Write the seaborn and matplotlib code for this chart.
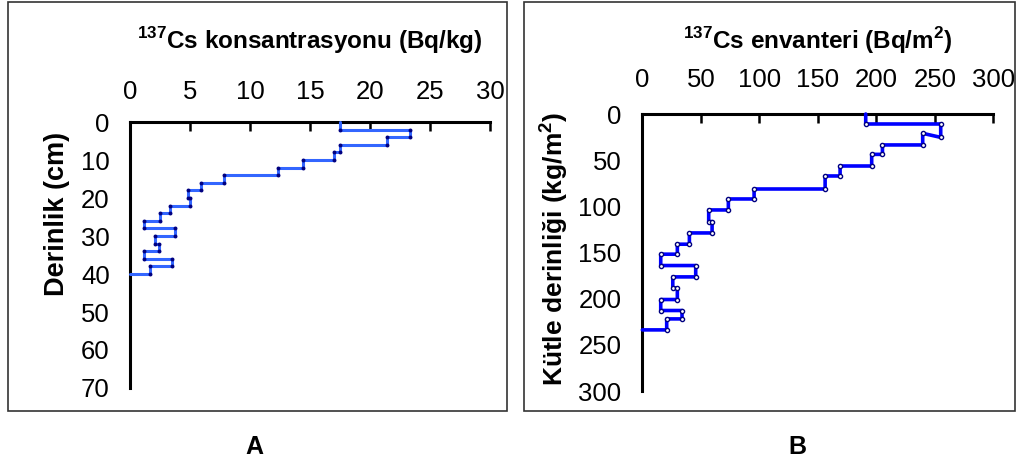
import matplotlib
import matplotlib.pyplot as plt
import pandas as pd
import seaborn as sns
from matplotlib.patches import Rectangle

matplotlib.use("Agg")

# --- DATA ---
# A: 137Cs concentration per 2 cm layer
depth_cm = [0, 2, 4, 6, 8, 10, 12, 14, 16, 18, 20,
            22, 24, 26, 28, 30, 32, 34, 36, 38, 40]
conc_bq_kg = [17.5, 23.3, 21.4, 17.5, 17.0, 14.4, 12.3, 7.8, 5.9, 4.8,
              5.0, 3.3, 2.5, 1.2, 3.75, 2.1, 2.4, 1.2, 3.5, 1.7]

# B: 137Cs inventory per layer vs. mass depth
mass_top = [0, 10.8, 20.9, 33.5, 43.7, 56.3, 67.1, 81.2, 92.0, 103.9,
            116.5, 128.8, 141.0, 151.8, 164.1, 176.4, 188.3, 200.9, 212.8, 221.9]
mass_bot = [10.8, 25.3, 33.5, 43.7, 56.3, 67.1, 81.2, 92.0, 103.9, 116.5,
            128.8, 141.0, 151.8, 164.1, 176.4, 188.3, 200.9, 212.8, 221.9, 233.8]
inv_bq_m2 = [190.9, 255.0, 239.6, 205.2, 196.0, 169.0, 156.2, 95.5, 73.5, 56.7,
             59.6, 40.2, 29.9, 15.7, 45.6, 26.0, 29.9, 15.7, 33.9, 20.8]

x_ticks_a = [0, 5, 10, 15, 20, 25, 30]
y_ticks_a = [0, 10, 20, 30, 40, 50, 60, 70]
x_ticks_b = [0, 50, 100, 150, 200, 250, 300]
y_ticks_b = [0, 50, 100, 150, 200, 250, 300]


def step_profile(values, tops, bots):
    """Turn layer values into a stepped depth profile, closing back at zero."""
    xs, ys = [], []
    for v, t, b in zip(values, tops, bots):
        xs += [v, v]
        ys += [t, b]
    xs.append(0)
    ys.append(bots[-1])
    return pd.DataFrame({"x": xs, "y": ys})


def style_axis(ax, xticks, yticks, xpad, ypad):
    ax.xaxis.set_ticks_position("top")
    ax.xaxis.set_label_position("top")
    ax.set_xticks(xticks)
    ax.set_yticks(yticks)
    ax.set_xlim(xticks[0], xticks[-1])
    ax.set_ylim(yticks[-1], yticks[0])
    for side in ("right", "bottom"):
        ax.spines[side].set_visible(False)
    for side in ("left", "top"):
        ax.spines[side].set_linewidth(2.2)
        ax.spines[side].set_color("black")
    ax.tick_params(axis="x", direction="in", length=6.5, width=1.8,
                   labelsize=18.5, pad=xpad, colors="black")
    ax.tick_params(axis="y", direction="in", length=6.5, width=1.8,
                   labelsize=18.5, pad=ypad, colors="black")
    ax.grid(False)
    ax.set_facecolor("white")


sns.set_theme(style="white")
plt.rcParams["font.family"] = ["Liberation Sans", "DejaVu Sans"]
plt.rcParams["mathtext.fontset"] = "custom"
plt.rcParams["mathtext.rm"] = "Liberation Sans"
plt.rcParams["mathtext.bf"] = "Liberation Sans:bold"
plt.rcParams["text.color"] = "black"
plt.rcParams["axes.labelcolor"] = "black"

fig = plt.figure(figsize=(10.18, 4.65), dpi=100)

# panel frames
fig.patches.append(Rectangle((0.0079, 0.1161), 0.4902, 0.8796, transform=fig.transFigure,
                             fill=False, edgecolor="#333333", linewidth=1.2))
fig.patches.append(Rectangle((0.5147, 0.1161), 0.4823, 0.8796, transform=fig.transFigure,
                             fill=False, edgecolor="#333333", linewidth=1.2))

# --- Panel A ---
ax_a = fig.add_axes([0.1277, 0.1656, 0.3536, 0.572])
df_a = step_profile(conc_bq_kg, depth_cm[:-1], depth_cm[1:])
sns.lineplot(data=df_a, x="x", y="y", sort=False, estimator=None, ax=ax_a,
             color="#3366FF", linewidth=2.2, clip_on=False, zorder=3)
sns.scatterplot(data=df_a.iloc[1:-1], x="x", y="y", ax=ax_a, color="#000080",
                s=8, linewidth=0, clip_on=False, zorder=4)
style_axis(ax_a, x_ticks_a, y_ticks_a, xpad=13, ypad=14.5)
ax_a.set_xlabel(r"$^{\mathbf{137}}$Cs konsantrasyonu (Bq/kg)", fontsize=17.5, fontweight="bold")
ax_a.set_ylabel("Derinlik (cm)", fontsize=19.5, fontweight="bold")
ax_a.xaxis.set_label_coords(0.5, 1.308)
ax_a.xaxis.label.set_va("center")
ax_a.yaxis.set_label_coords(-0.203, 0.656)
ax_a.yaxis.label.set_va("center")

# --- Panel B ---
ax_b = fig.add_axes([0.631, 0.1591, 0.3448, 0.5957])
df_b = step_profile(inv_bq_m2, mass_top, mass_bot)
sns.lineplot(data=df_b, x="x", y="y", sort=False, estimator=None, ax=ax_b,
             color="#0000FF", linewidth=2.6, clip_on=False, zorder=3)
sns.scatterplot(data=df_b.iloc[1:-1], x="x", y="y", ax=ax_b, color="white",
                edgecolor="#000080", s=9, linewidth=1.0, clip_on=False, zorder=4)
style_axis(ax_b, x_ticks_b, y_ticks_b, xpad=16, ypad=15)
ax_b.set_xlabel(r"$^{\mathbf{137}}$Cs envanteri (Bq/m$^{\mathbf{2}}$)", fontsize=17.5, fontweight="bold")
ax_b.set_ylabel(r"Kütle derinliği (kg/m$^{\mathbf{2}}$)", fontsize=19, fontweight="bold")
ax_b.xaxis.set_label_coords(0.5, 1.267)
ax_b.xaxis.label.set_va("center")
ax_b.yaxis.set_label_coords(-0.254, 0.514)
ax_b.yaxis.label.set_va("center")

fig.text(254 / 1018, 1 - 447 / 465, "A", ha="center", va="center", fontsize=18, fontweight="bold")
fig.text(797 / 1018, 1 - 447 / 465, "B", ha="center", va="center", fontsize=18, fontweight="bold")

fig.savefig("out.png", dpi=100, facecolor="white")
